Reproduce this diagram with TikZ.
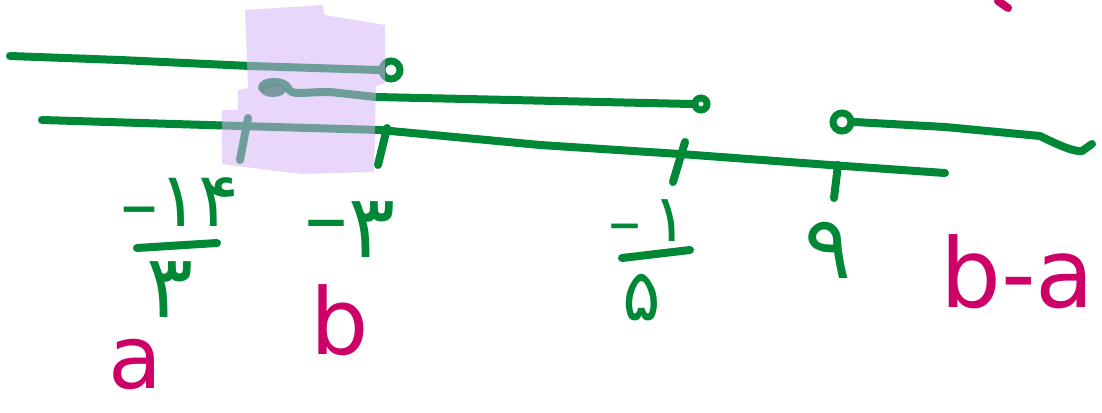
\documentclass[tikz,border=0pt]{standalone}
\usepackage{fontspec}
\newfontfamily\pfont{DejaVu Sans}
\definecolor{pen}{RGB}{0,136,54}
\definecolor{ink}{RGB}{204,0,102}
\definecolor{lav}{RGB}{211,178,246}
% a minus sign made from an en dash, lifted by the given amount
\newcommand{\penminus}[1]{\raisebox{#1}{–}}
\begin{document}
\begin{tikzpicture}[x=1pt,y=-1pt,
  stroke/.style={draw=pen,line width=8pt,line cap=round,line join=round},
  hole/.style={circle,draw=pen,line width=7pt,inner sep=0pt,minimum size=#1},
  num/.style={text=pen,font=\pfont\fontsize{#1}{#1}\selectfont,inner sep=0pt},
  num/.default=88,
  letter/.style={text=ink,font=\pfont\fontsize{#1}{#1}\selectfont,inner sep=0pt},
  letter/.default=92,
  marker/.style={fill=lav,opacity=0.52}]
\useasboundingbox (0,0) rectangle (1102,412);

% open end points
\node[hole=18pt] (o1) at (391,70) {};
\node[hole=12pt] (o2) at (701,104) {};
\node[hole=18pt] (o3) at (842,122) {};
\coordinate (s1) at (10,56);
\coordinate (s2) at (262,88);
\coordinate (s3) at (42,120);
\coordinate (e3) at (945,173);
\coordinate (e4) at (1092,144);

% number lines
\draw[stroke] (s1) -- (120,60) -- (250,66) -- (o1.west);
\draw[stroke] (s2) .. controls (262,80) and (285,80) .. (288,88)
  .. controls (292,96) and (300,92) .. (330,92) -- (376,97) -- (o2.west);
\fill[pen!85!black,opacity=0.9] (273,90) ellipse (13pt and 7pt);
\draw[stroke] (s3) -- (240,126) -- (380,130) -- (540,145) -- (680,154)
  -- (830,165) -- (e3);
\draw[stroke] (o3.east) -- (945,127) -- (1040,136)
  .. controls (1060,146) and (1075,152) .. (1082,151) -- (e4);

% ticks
\draw[stroke] (248,118) -- (240,160);
\draw[stroke] (387,128) -- (378,165);
\draw[stroke] (685,142) -- (673,182);
\draw[stroke] (838,165) -- (834,198);

% highlighted interval
\fill[marker] (245,10) -- (323,5) -- (324,15) -- (385,25) -- (385,83)
  -- (376,86) -- (374,172) -- (300,174) -- (222,164) -- (222,110)
  -- (238,110) -- (238,90) -- (248,88) -- cycle;

% labels on the line
\node[num=76] (n1) at (180,204) {\penminus{-4pt}۱۴};
\draw[stroke] (137,248) -- (217,243);
\node[num] (d1) at (170,290) {۳};
\node[num] (n2) at (350,230) {\penminus{10pt}۳};
\node[num=66] (n3) at (648,222) {\penminus{-3pt}\,۱};
\draw[stroke] (622,258) -- (690,250);
\node[num=72] (d3) at (642,298) {۵};
\node[num] (n4) at (828,250) {۹};

% names of the points
\node[letter=88] (a) at (135,364) {a};
\node[letter] (b) at (340,320) {b};
\node[letter=96,anchor=west] (ba) at (940,272) {b-a};
\draw[draw=ink,line width=8pt,line cap=round] (998,1) -- (1008,8);
\end{tikzpicture}
\end{document}
